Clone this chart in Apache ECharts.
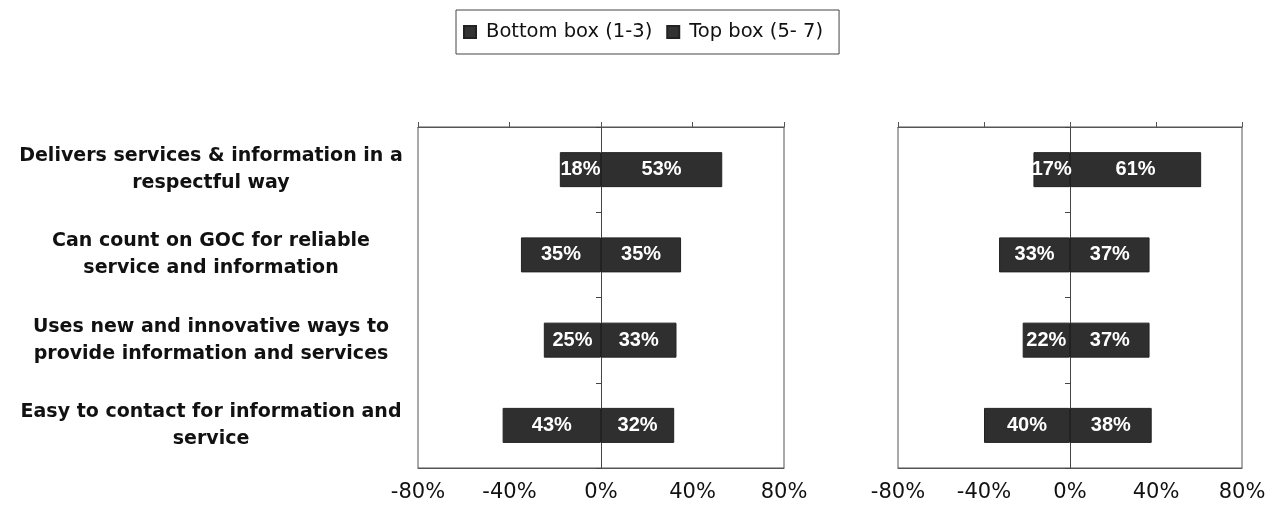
<!DOCTYPE html>
<html><head><meta charset="utf-8">
<script src="https://cdn.jsdelivr.net/npm/echarts@6/dist/echarts.min.js"></script>
<style>html,body{margin:0;padding:0;background:#fff}#c{width:1274px;height:510px}</style>
</head><body><div id="c"></div>
<script>
const categories = [
  "Delivers services & information in a\nrespectful way",
  "Can count on GOC for reliable\nservice and information",
  "Uses new and innovative ways to\nprovide information and services",
  "Easy to contact for information and\nservice"
];
const seriesNames = ["Bottom box (1-3)", "Top box (5- 7)"];
const leftBottom = [18, 35, 25, 43];
const leftTop = [53, 35, 33, 32];
const rightBottom = [17, 33, 22, 40];
const rightTop = [61, 37, 37, 38];
const tickMin = -80, tickMax = 80, tickStep = 40;

const font = "'Liberation Sans', Arial, sans-serif";
const wideFont = "'DejaVu Sans', sans-serif";
const barColor = '#2f2f2f';
const grids = [
  {left: 418, top: 127, width: 366, height: 341, show: true, borderColor: '#555', borderWidth: 1},
  {left: 898, top: 127, width: 344, height: 341, show: true, borderColor: '#555', borderWidth: 1}
];
const xAxes = [], yAxes = [], series = [];
[0, 1].forEach(g => {
  xAxes.push({type: 'value', gridIndex: g, position: 'top', min: tickMin, max: tickMax, interval: tickStep,
    axisLine: {show: true, onZero: false, lineStyle: {color: '#555'}},
    axisTick: {show: true, length: 5, lineStyle: {color: '#555'}},
    axisLabel: {show: false}, splitLine: {show: false}});
  xAxes.push({type: 'value', gridIndex: g, position: 'bottom', min: tickMin, max: tickMax, interval: tickStep,
    axisLine: {show: true, onZero: false, lineStyle: {color: '#555'}},
    axisTick: {show: false},
    axisLabel: {show: true, margin: 14, color: '#111', fontSize: 21, fontFamily: wideFont, formatter: v => v + '%'},
    splitLine: {show: false}});
  yAxes.push({type: 'category', gridIndex: g, position: 'left', data: categories, inverse: true,
    axisLine: {show: false}, axisTick: {show: false},
    axisLabel: {show: g === 0, margin: 207, align: 'center', color: '#111', fontSize: 19, fontWeight: 'bold',
      fontFamily: wideFont, lineHeight: 27}});
  yAxes.push({type: 'category', gridIndex: g, position: 'right', data: categories, inverse: true,
    axisLine: {show: true, onZero: true, lineStyle: {color: '#444'}},
    axisTick: {show: true, inside: true, length: 5, lineStyle: {color: '#444'}},
    axisLabel: {show: false}});
});
const sets = [[leftBottom, leftTop], [rightBottom, rightTop]];
sets.forEach((pair, g) => {
  pair.forEach((vals, k) => {
    series.push({
      name: seriesNames[k], type: 'bar', stack: 'g' + g,
      xAxisIndex: g * 2 + 1, yAxisIndex: g * 2,
      data: vals.map(v => k === 0 ? -v : v),
      barWidth: 35,
      itemStyle: {color: barColor, borderColor: '#222', borderWidth: 1},
      label: {show: true, position: 'inside', color: '#fff', fontSize: 20, fontWeight: 'bold', fontFamily: font,
        formatter: p => Math.abs(p.value) + '%'}
    });
  });
});
const chart = echarts.init(document.getElementById('c'));
chart.setOption({
  animation: false,
  backgroundColor: '#fff',
  legend: {data: seriesNames, left: 456, top: 10, borderColor: '#444', borderWidth: 1,
    padding: [12, 16, 12, 7], itemGap: 14, itemWidth: 12, itemHeight: 12, icon: 'rect',
    itemStyle: {color: '#333'},
    textStyle: {fontSize: 19.5, color: '#111', fontFamily: wideFont, padding: [0, 0, 0, 5]}},
  grid: grids, xAxis: xAxes, yAxis: yAxes, series: series
});
</script></body></html>
